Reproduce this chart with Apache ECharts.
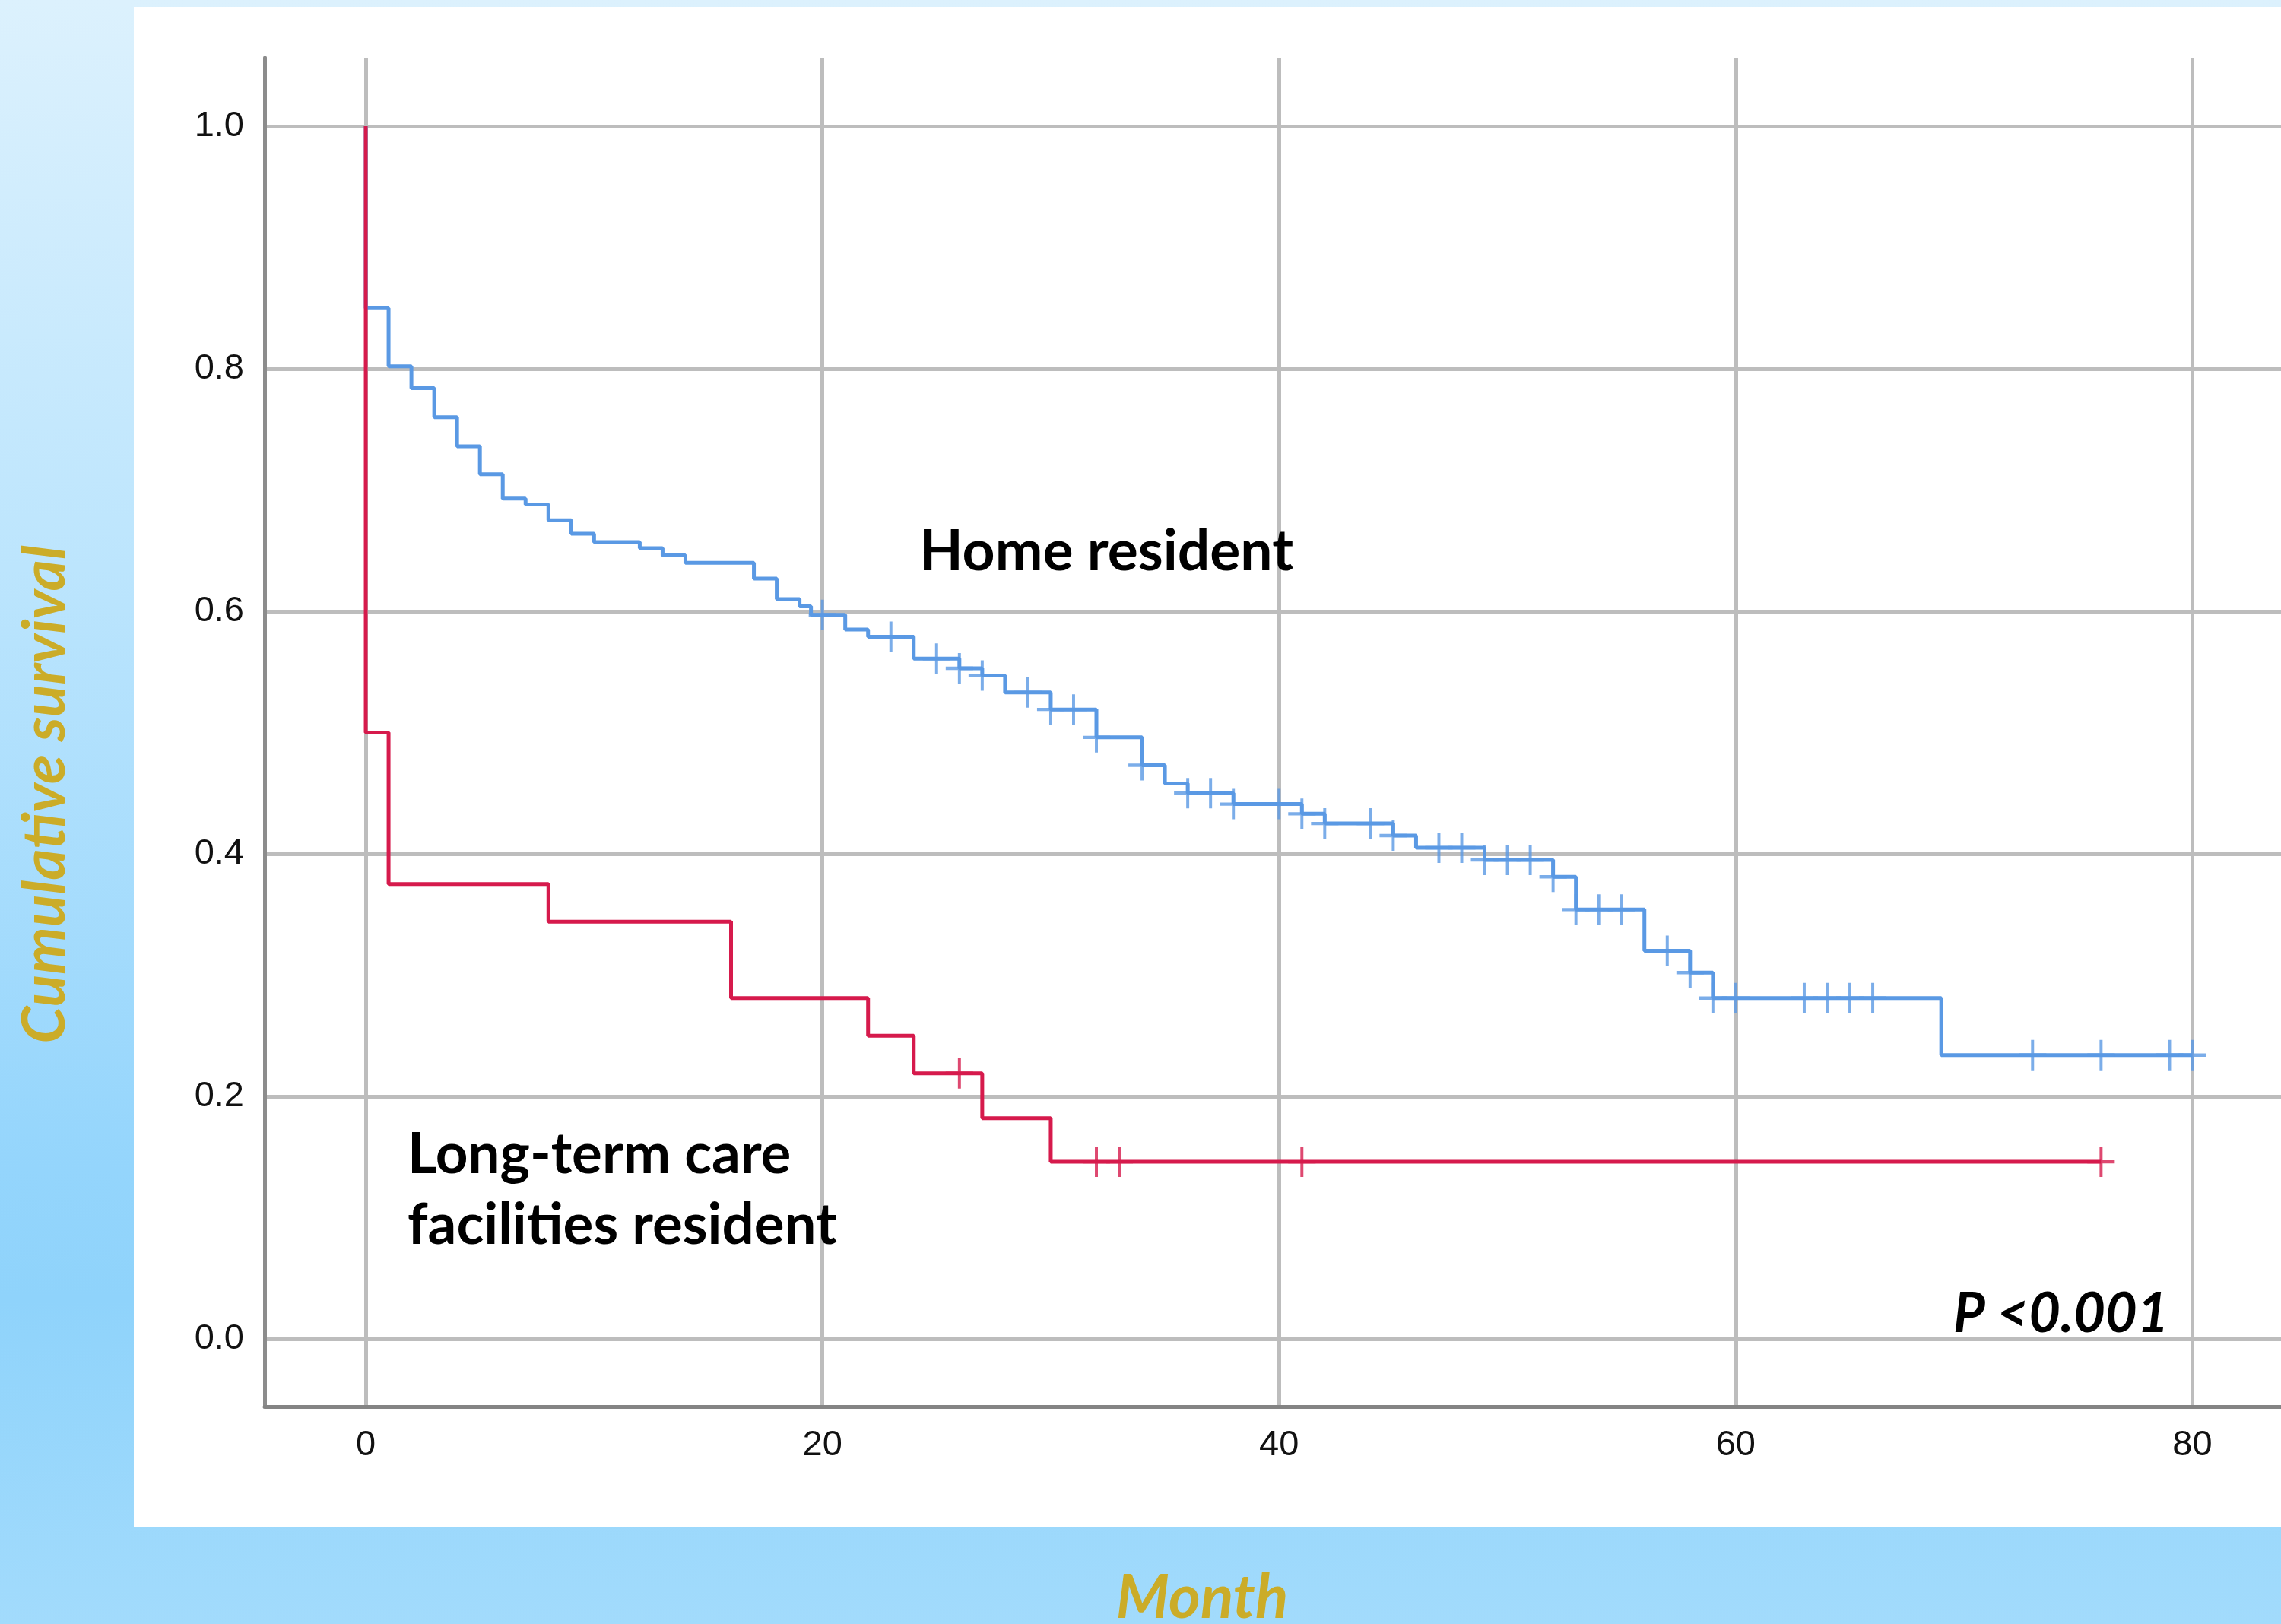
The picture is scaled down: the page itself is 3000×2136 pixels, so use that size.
<!DOCTYPE html>
<html>
<head>
<meta charset="utf-8">
<script src="https://cdn.jsdelivr.net/npm/echarts@6/dist/echarts.min.js"></script>
<style>
html,body{margin:0;padding:0;background:#fff;}
#c{width:3000px;height:2136px;}
</style>
</head>
<body>
<div id="c"></div>
<script>
// ---- data ----
const xTicks = [0, 20, 40, 60, 80];
const yTicks = [0, 0.2, 0.4, 0.6, 0.8, 1.0];

// Home resident: step start times (months) and survival from that time on
const homeTimes = [0, 0, 1, 2, 3, 4, 5, 6, 7, 8, 9, 10, 12, 13, 14, 17, 18, 19, 19.5, 21, 22, 24, 26, 27, 28, 30, 32, 34, 35, 36, 38, 41, 42, 45, 46, 49, 52, 53, 56, 58, 59, 69, 80];
const homeSurv  = [1.0, 0.850, 0.802, 0.784, 0.760, 0.736, 0.713, 0.693, 0.688, 0.675, 0.664, 0.657, 0.652, 0.646, 0.640, 0.627, 0.610, 0.604, 0.597, 0.585, 0.579, 0.561, 0.553, 0.547, 0.533, 0.519, 0.496, 0.473, 0.458, 0.450, 0.441, 0.433, 0.425, 0.415, 0.405, 0.395, 0.381, 0.354, 0.320, 0.302, 0.281, 0.234, 0.234];
const homeCensored = [20, 23, 25, 26, 27, 29, 30, 31, 32, 34, 36, 37, 38, 40, 41, 42, 44, 45, 47, 48, 49, 50, 51, 52, 53, 54, 55, 57, 58, 59, 60, 63, 64, 65, 66, 73, 76, 79, 80];

// Long-term care facilities resident
const ltcTimes = [0, 0, 1, 8, 16, 22, 24, 27, 30, 76];
const ltcSurv  = [1.0, 0.500, 0.375, 0.344, 0.281, 0.250, 0.219, 0.182, 0.146, 0.146];
const ltcCensored = [26, 32, 33, 41, 76];

const labelHome = 'Home resident';
const labelLtc = ['Long-term care', 'facilities resident'];
const pText = 'P <0.001';
const xTitle = 'Month';
const yTitle = 'Cumulative survival';

// ---- helpers ----
function pairs(ts, ss) { return ts.map((t, i) => [t, ss[i]]); }
function survAt(ts, ss, t) {
  let v = ss[0];
  for (let i = 0; i < ts.length; i++) { if (ts[i] <= t) v = ss[i]; }
  return v;
}
function censorPts(ts, ss, cs) { return cs.map(t => [t, survAt(ts, ss, t)]); }

const BLUE = '#5A99E4';
const RED = '#D61A4C';
const GOLD = '#CBAC28';
const plus = 'path://M-1.1,-10L1.1,-10L1.1,-1.1L10,-1.1L10,1.1L1.1,1.1L1.1,10L-1.1,10L-1.1,1.1L-10,1.1L-10,-1.1L-1.1,-1.1Z';
const TXT = "'Lato', 'Open Sans', sans-serif";

const chart = echarts.init(document.getElementById('c'), null, {renderer: 'canvas'});
const option = {
  animation: false,
  backgroundColor: new echarts.graphic.LinearGradient(0, 0, 0, 1, [
    {offset: 0, color: '#dcf1fd'},
    {offset: 0.35, color: '#bce5fd'},
    {offset: 0.72, color: '#94d5fc'},
    {offset: 0.8, color: '#8fd3fb'},
    {offset: 1, color: '#a2dbfc'}
  ]),
  grid: {left: 348, right: 0, top: 76, bottom: 286, containLabel: false},
  xAxis: {
    type: 'value',
    min: -4.43, max: 83.88,
    axisLine: {show: true, onZero: false, lineStyle: {color: '#848484', width: 5}},
    axisTick: {show: false, customValues: xTicks},
    axisLabel: {customValues: xTicks, margin: 28, color: '#111', fontFamily: 'Liberation Sans', fontSize: 47},
    splitLine: {show: true, lineStyle: {color: '#bdbdbd', width: 5}}
  },
  yAxis: {
    type: 'value',
    min: -0.0558, max: 1.0564,
    axisLine: {show: true, onZero: false, lineStyle: {color: '#8c8c8c', width: 5}},
    axisTick: {show: false, customValues: yTicks},
    axisLabel: {customValues: yTicks, margin: 27, color: '#111', fontFamily: 'Liberation Sans', fontSize: 47,
      formatter: v => Number(v).toFixed(1)},
    splitLine: {show: true, lineStyle: {color: '#bdbdbd', width: 5}}
  },
  graphic: [
    {type: 'rect', z: -10, silent: true, shape: {x: 176, y: 9, width: 2824, height: 1999}, style: {fill: '#ffffff'}},
    {type: 'text', z: 100, style: {text: labelHome, x: 1209, y: 726, fill: '#000', font: 'bold 75px ' + TXT, align: 'left', verticalAlign: 'middle'}},
    {type: 'text', z: 100, style: {text: labelLtc[0], x: 536, y: 1519, fill: '#000', font: 'bold 74.5px ' + TXT, align: 'left', verticalAlign: 'middle'}},
    {type: 'text', z: 100, style: {text: labelLtc[1], x: 536, y: 1612, fill: '#000', font: 'bold 74.5px ' + TXT, align: 'left', verticalAlign: 'middle'}},
    {type: 'text', z: 100, style: {text: pText, x: 2569, y: 1729, fill: '#000', font: 'italic bold 72px ' + TXT, align: 'left', verticalAlign: 'middle'}},
    {type: 'text', z: 100, style: {text: xTitle, x: 1581, y: 2102, fill: GOLD, font: 'italic bold 80px ' + TXT, align: 'center', verticalAlign: 'middle'}},
    {type: 'text', z: 100, rotation: Math.PI / 2, x: 60, y: 1045, style: {text: yTitle, x: 0, y: 0, fill: GOLD, font: 'italic bold 79px ' + TXT, align: 'center', verticalAlign: 'middle'}}
  ],
  series: [
    {type: 'line', name: 'Home resident', step: 'end', data: pairs(homeTimes, homeSurv), showSymbol: false,
      lineStyle: {color: BLUE, width: 5}, z: 2},
    {type: 'scatter', name: 'Home censored', data: censorPts(homeTimes, homeSurv, homeCensored), symbol: plus,
      symbolSize: [36, 40], itemStyle: {color: BLUE}, z: 3},
    {type: 'line', name: 'LTC resident', step: 'end', data: pairs(ltcTimes, ltcSurv), showSymbol: false,
      lineStyle: {color: RED, width: 5}, z: 4},
    {type: 'scatter', name: 'LTC censored', data: censorPts(ltcTimes, ltcSurv, ltcCensored), symbol: plus,
      symbolSize: [36, 40], itemStyle: {color: RED}, z: 5}
  ]
};
chart.setOption(option);
</script>
</body>
</html>
